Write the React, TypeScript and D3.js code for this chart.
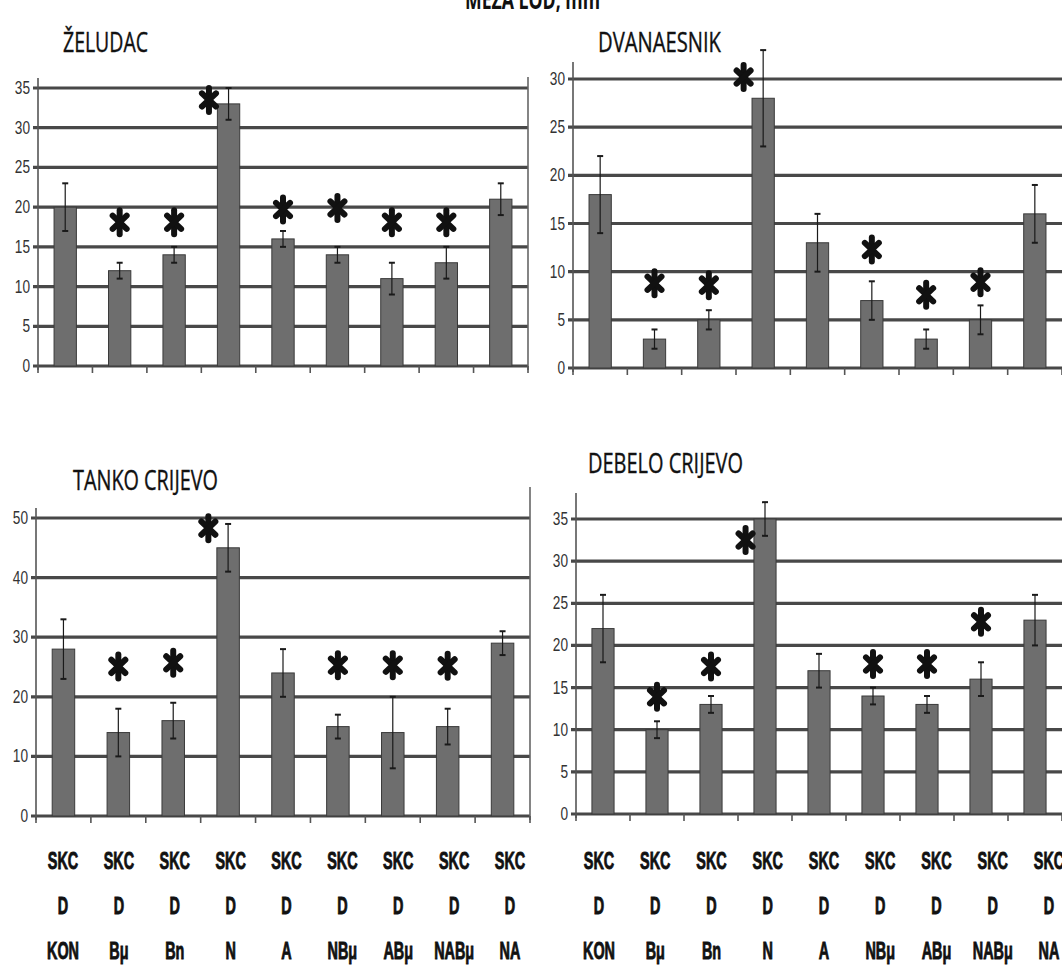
import React from "react";
import * as d3 from "d3";

const categories = ["KON", "Bμ", "Bn", "N", "A", "NBμ", "ABμ", "NABμ", "NA"];
const labelRow1 = "SKC";
const labelRow2 = "D";

const zeludacValues = [20, 12, 14, 33, 16, 14, 11, 13, 21];
const zeludacErrors = [3, 1, 1, 2, 1, 1, 2, 2, 2];
const zeludacStars = [null, 18.1, 18.1, 33.5, 19.7, 19.9, 18.1, 18.1, null];

const dvanaesnikValues = [18, 3, 5, 28, 13, 7, 3, 5, 16];
const dvanaesnikErrors = [4, 1, 1, 5, 3, 2, 1, 1.5, 3];
const dvanaesnikStars = [null, 8.8, 8.6, 30.2, null, 12.3, 7.6, 8.9, null];

const tankoValues = [28, 14, 16, 45, 24, 15, 14, 15, 29];
const tankoErrors = [5, 4, 3, 4, 4, 2, 6, 3, 2];
const tankoStars = [null, 25.1, 25.7, 48.3, null, 25.3, 25.3, 25.2, null];

const debeloValues = [22, 10, 13, 35, 17, 14, 13, 16, 23];
const debeloErrors = [4, 1, 1, 2, 2, 1, 1, 2, 3];
const debeloStars = [null, 13.9, 17.5, 32.5, null, 17.8, 17.8, 22.8, null];

const ticks35 = [0, 5, 10, 15, 20, 25, 30, 35];
const ticks30 = [0, 5, 10, 15, 20, 25, 30];
const ticks50 = [0, 10, 20, 30, 40, 50];

const starShift = [0, 0, 0, -0.36, 0, 0, 0, 0, 0];

const topTitle = "MEZA LOD, mm";

const panels = [
  {
    title: "ŽELUDAC", values: zeludacValues, errors: zeludacErrors, stars: zeludacStars, ticks: ticks35,
    layout: { x0: 38, x1: 528, y0: 366, yTop: 88, axisTop: 78, tx: 63, ty: 52, tw: 85, border: 77 },
  },
  {
    title: "DVANAESNIK", values: dvanaesnikValues, errors: dvanaesnikErrors, stars: dvanaesnikStars, ticks: ticks30,
    layout: { x0: 573, x1: 1062, y0: 368, yTop: 79, axisTop: 62, tx: 598, ty: 52, tw: 123, border: null },
  },
  {
    title: "TANKO CRIJEVO", values: tankoValues, errors: tankoErrors, stars: tankoStars, ticks: ticks50,
    layout: { x0: 36, x1: 530, y0: 816, yTop: 518, axisTop: 508, tx: 73, ty: 490, tw: 145, border: 487 },
  },
  {
    title: "DEBELO CRIJEVO", values: debeloValues, errors: debeloErrors, stars: debeloStars, ticks: ticks35,
    layout: { x0: 576, x1: 1062, y0: 814, yTop: 519, axisTop: 493, tx: 588, ty: 473, tw: 155, border: null },
  },
];

const labelRanges = [
  [63, 510],
  [599, 1049],
];
const labelRowsY = [869, 914, 959];

function Star({ x, y }: { x: number; y: number }) {
  const h = 12;
  const w = 7;
  return (
    <g transform={`translate(${x},${y})`} stroke="#111" strokeWidth={6} strokeLinecap="round">
      <line x1={0} y1={-h} x2={0} y2={h} />
      <line x1={-w} y1={-h * 0.55} x2={w} y2={h * 0.55} />
      <line x1={w} y1={-h * 0.55} x2={-w} y2={h * 0.55} />
    </g>
  );
}

function Panel({ p }: { p: any }) {
  const L = p.layout;
  const maxTick = p.ticks[p.ticks.length - 1];
  const y = d3.scaleLinear().domain([0, maxTick]).range([L.y0, L.yTop]);
  const x = d3.scaleBand<string>().domain(categories).range([L.x0, L.x1]).paddingInner(0).paddingOuter(0);
  const bw = x.bandwidth();
  const barW = bw * 0.41;
  const font = "'Liberation Sans Narrow', 'Liberation Sans', Arial, sans-serif";
  return (
    <g>
      <text
        x={L.tx}
        y={L.ty}
        fontFamily="'Open Sans', 'Liberation Sans', sans-serif"
        fontSize={28}
        textLength={L.tw}
        lengthAdjust="spacingAndGlyphs"
        fill="#111"
        stroke="#111"
        strokeWidth={0.4}
      >
        {p.title}
      </text>
      {p.ticks.map((t: number) => (
        <line key={"g" + t} x1={L.x0 - 5} x2={L.x1} y1={y(t)} y2={y(t)} stroke="#484848" strokeWidth={3.2} />
      ))}
      <line x1={L.x0} x2={L.x0} y1={L.axisTop} y2={L.y0 + 4} stroke="#555" strokeWidth={1.6} />
      {L.border !== null && (
        <line x1={L.x1} x2={L.x1} y1={L.border} y2={L.y0 + 4} stroke="#666" strokeWidth={1.6} />
      )}
      {d3.range(categories.length + 1).map((i) => {
        const xx = L.x0 + i * bw;
        return <line key={"xt" + i} x1={xx} x2={xx} y1={L.y0} y2={L.y0 + 7} stroke="#555" strokeWidth={1.6} />;
      })}
      {p.ticks.map((t: number) => (
        <text
          key={"yl" + t}
          transform={`translate(${L.x0 - 8},${y(t) + 6}) scale(0.76,1)`}
          textAnchor="end"
          fontFamily={font}
          fontSize={18}
          fill="#333"
        >
          {t}
        </text>
      ))}
      {categories.map((c, i) => {
        const cx = (x(c) as number) + bw / 2;
        const v = p.values[i];
        return (
          <rect
            key={"b" + c}
            x={cx - barW / 2}
            y={y(v)}
            width={barW}
            height={L.y0 - y(v)}
            fill="#6e6e6e"
            stroke="#3a3a3a"
            strokeWidth={1}
          />
        );
      })}
      {categories.map((c, i) => {
        const cx = (x(c) as number) + bw / 2;
        const v = p.values[i];
        const e = p.errors[i];
        return (
          <g key={"e" + c} stroke="#1a1a1a">
            <line x1={cx} x2={cx} y1={y(v + e)} y2={y(v - e)} strokeWidth={1.2} />
            <line x1={cx - 3} x2={cx + 3} y1={y(v + e)} y2={y(v + e)} strokeWidth={2} />
            <line x1={cx - 3} x2={cx + 3} y1={y(v - e)} y2={y(v - e)} strokeWidth={2} />
          </g>
        );
      })}
      {categories.map((c, i) => {
        const s = p.stars[i];
        if (s === null) return null;
        const cx = (x(c) as number) + bw / 2 + starShift[i] * bw;
        return <Star key={"s" + c} x={cx} y={y(s)} />;
      })}
    </g>
  );
}

export default function App() {
  const labelFont = "'Liberation Sans Narrow', 'Liberation Sans', Arial, sans-serif";
  return (
    <svg
      width={1062}
      height={976}
      viewBox="0 0 1062 976"
      style={{ position: "absolute", left: 0, top: 0, background: "#fff" }}
    >
      <rect x={0} y={0} width={1062} height={976} fill="#fff" />
      <text
        x={465}
        y={9}
        fontFamily="'Open Sans', 'Liberation Sans', sans-serif"
        fontWeight="bold"
        fontSize={26}
        textLength={135}
        lengthAdjust="spacingAndGlyphs"
        fill="#111"
      >
        {topTitle}
      </text>
      {panels.map((p) => (
        <Panel key={p.title} p={p} />
      ))}
      {labelRanges.map((r, k) => {
        const lx = d3.scalePoint<string>().domain(categories).range(r as [number, number]);
        return (
          <g key={"lab" + k}>
            {categories.map((c) => {
              const cx = lx(c) as number;
              const rows = [labelRow1, labelRow2, c];
              return rows.map((txt, j) => (
                <text
                  key={c + j}
                  transform={`translate(${cx},${labelRowsY[j]}) scale(0.6,1)`}
                  textAnchor="middle"
                  fontFamily={labelFont}
                  fontWeight="bold"
                  fontSize={24}
                  fill="#111"
                  stroke="#111"
                  strokeWidth={0.9}
                >
                  {txt}
                </text>
              ));
            })}
          </g>
        );
      })}
    </svg>
  );
}
